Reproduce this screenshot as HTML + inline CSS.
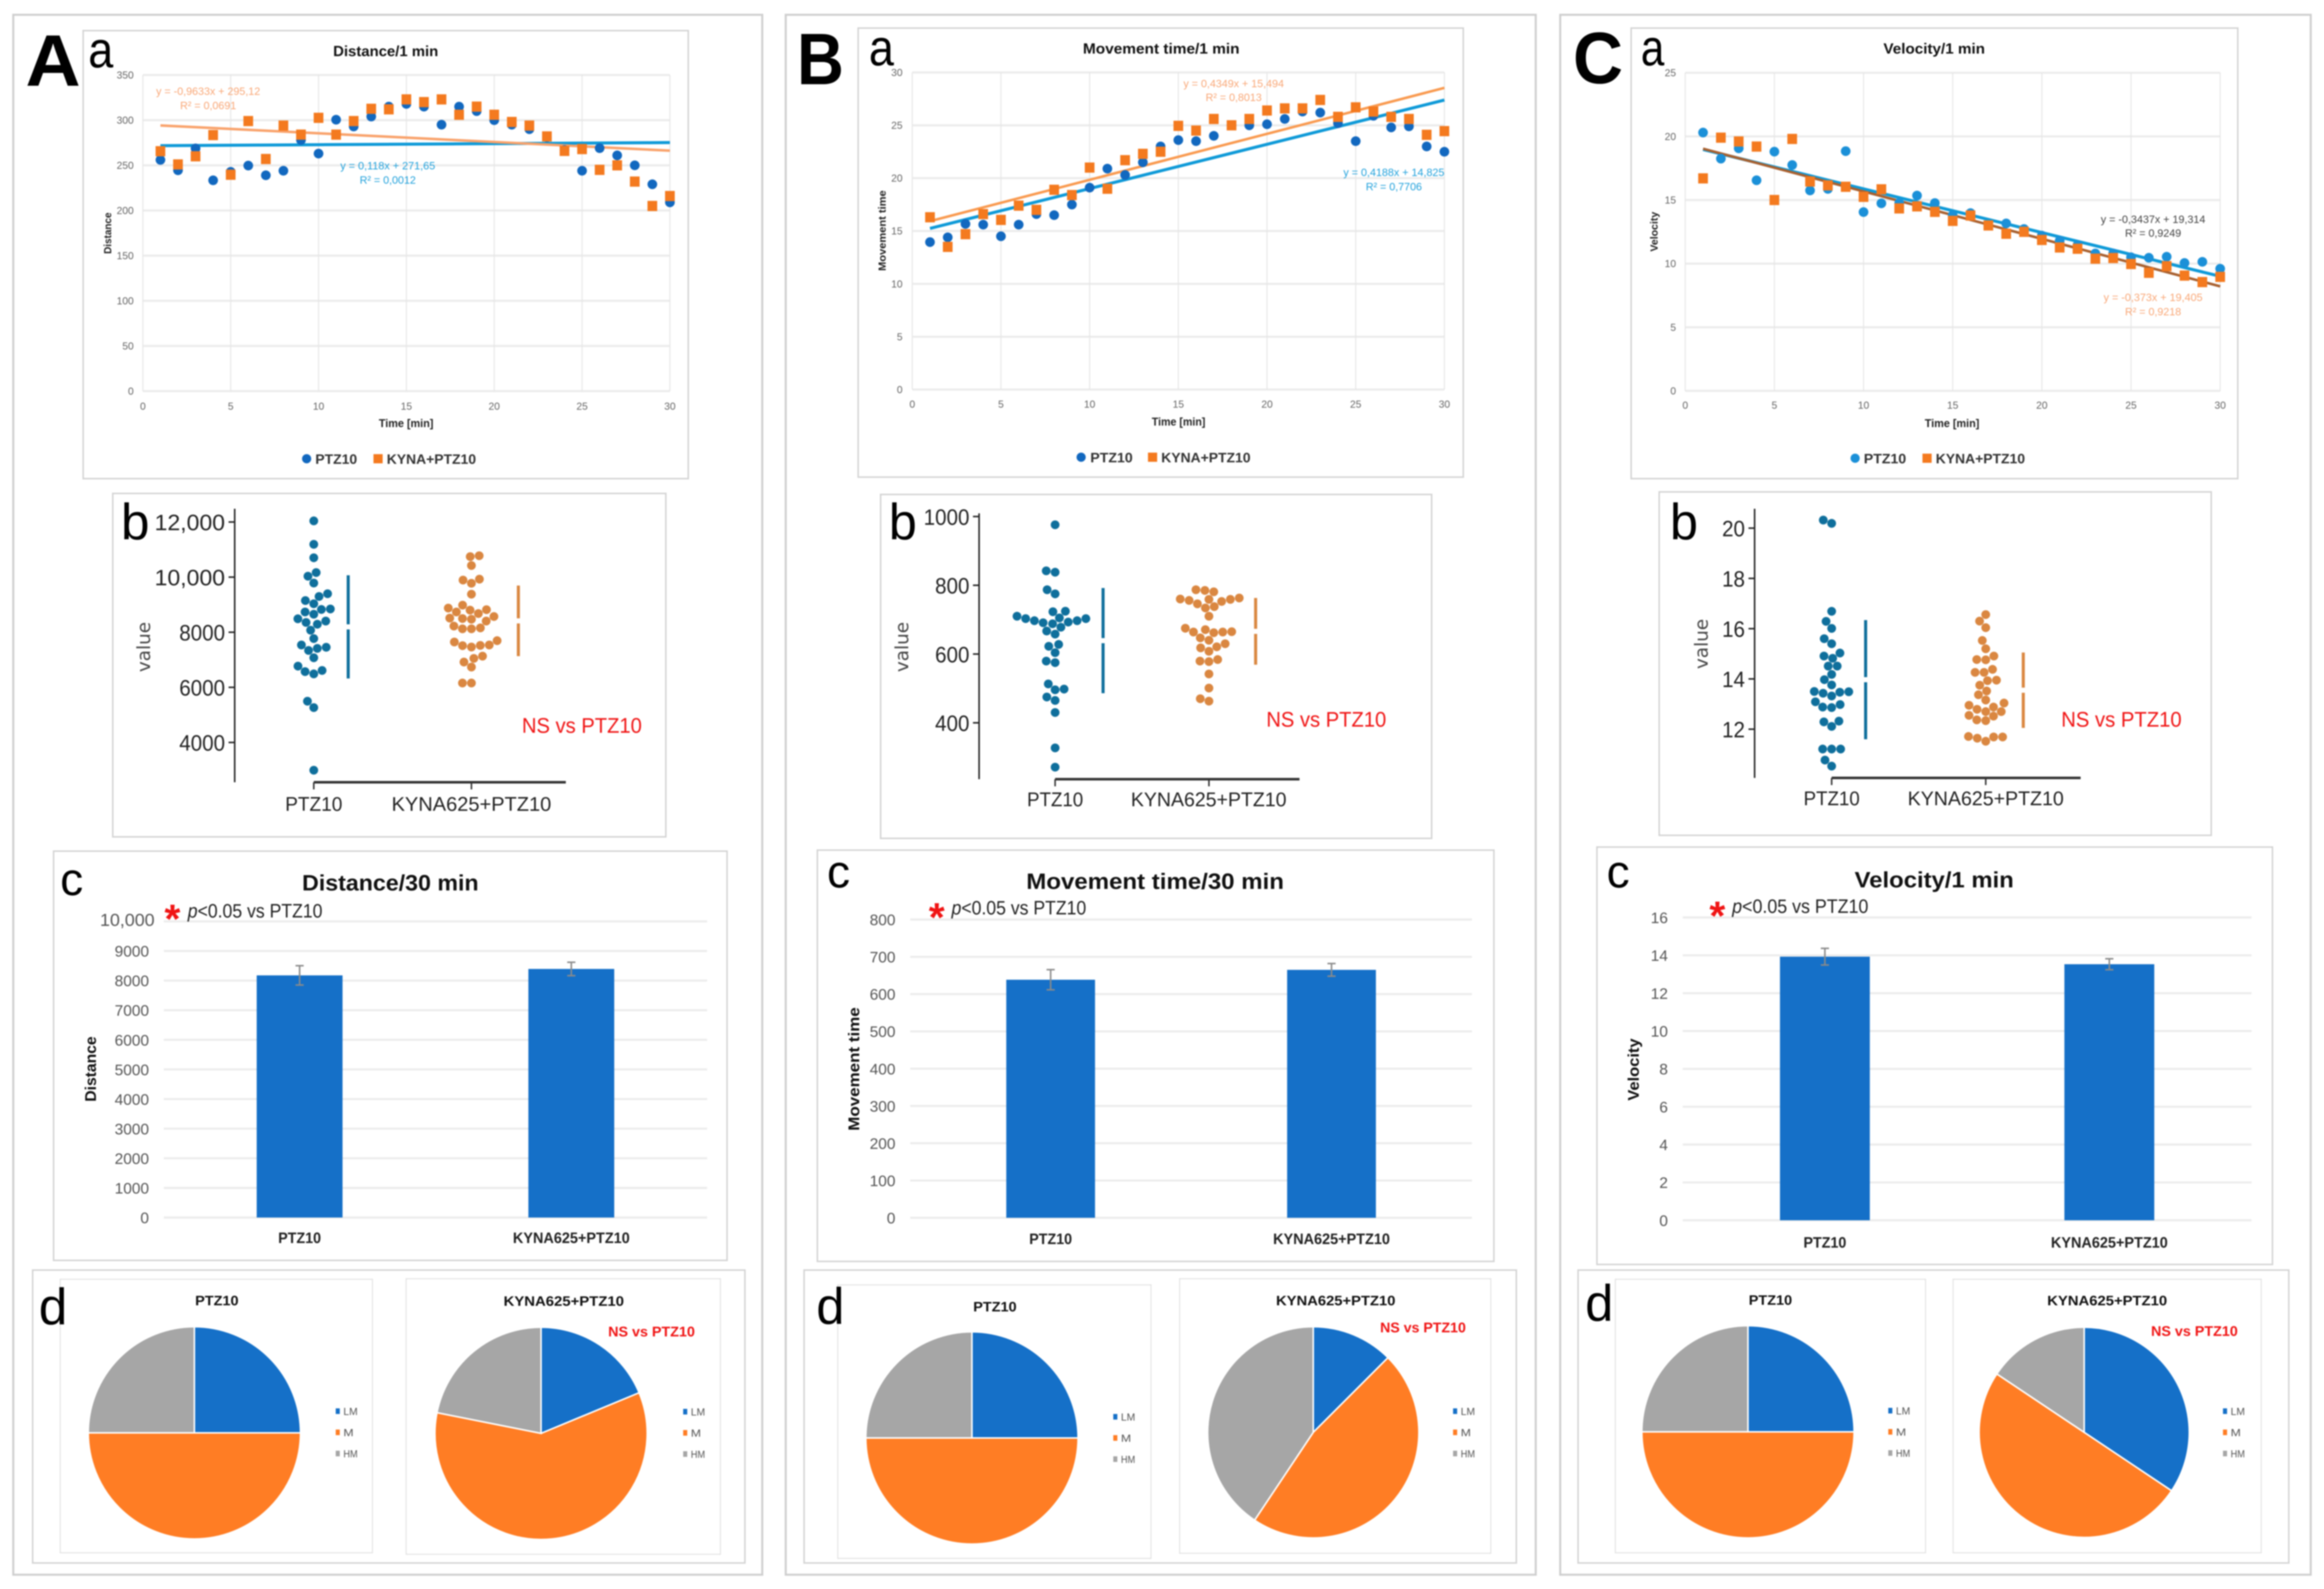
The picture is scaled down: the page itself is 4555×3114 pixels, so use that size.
<!DOCTYPE html>
<html lang="en">
<head>
<meta charset="utf-8">
<title>PTZ10 and KYNA625+PTZ10 behavioural charts</title>
<style>
html,body{margin:0;padding:0;background:#fff;}
svg{display:block;filter:blur(1.4px);font-family:"Liberation Sans",sans-serif;}
.frame{fill:#fff;stroke:#cfcfcf;stroke-width:4;}
.box{fill:#fff;stroke:#d4d4d4;stroke-width:3;}
.subbox{fill:#fff;stroke:#e2e2e2;stroke-width:2;}
.big{font-weight:700;font-size:143px;fill:#000;}
.sub{font-size:100px;fill:#000;}
.atitle{font-weight:700;font-size:29px;fill:#111;}
.axb{font-weight:700;font-size:20px;fill:#222;}
.leg{font-weight:700;font-size:27px;fill:#333;}
.eqo{font-size:21px;fill:#f9a878;}
.eqb{font-size:21px;fill:#23a2dc;}
.eqd{font-size:21px;fill:#444;}
.val{font-family:"DejaVu Sans",sans-serif;font-size:36px;fill:#444;}
.cat{font-size:39px;fill:#222;}
.ns{font-size:42px;fill:#f01515;}
.ctitle{font-weight:700;font-size:44px;fill:#111;}
.cax{font-weight:700;font-size:31px;fill:#111;}
.ccat{font-weight:700;font-size:30px;fill:#222;}
.star{font-weight:700;font-size:80px;fill:#f01515;}
.sig{font-size:38px;fill:#222;}
.dtitle{font-weight:700;font-size:27px;fill:#111;}
.dns{font-weight:700;font-size:28px;fill:#f01515;}
</style>
</head>
<body>
<svg id="fig" width="4555" height="3114" viewBox="0 0 4555 3114">
<rect x="0" y="0" width="4555" height="3114" fill="#fff"/>

<rect class="frame" x="26" y="29" width="1468" height="3057"/>
<rect class="frame" x="1540" y="29" width="1470" height="3057"/>
<rect class="frame" x="3058" y="29" width="1471" height="3057"/>

<rect class="box" x="163" y="60" width="1186" height="878"/>
<rect class="box" x="1682" y="55" width="1186" height="880"/>
<rect class="box" x="3197" y="55" width="1189" height="883"/>

<rect class="box" x="221" y="967" width="1084" height="673"/>
<rect class="box" x="1726" y="969" width="1080" height="674"/>
<rect class="box" x="3252" y="964" width="1082" height="673"/>

<rect class="box" x="105" y="1668" width="1320" height="802"/>
<rect class="box" x="1602" y="1666" width="1326" height="806"/>
<rect class="box" x="3130" y="1660" width="1324" height="818"/>

<rect class="box" x="64" y="2489" width="1396" height="574"/>
<rect class="box" x="1576" y="2489" width="1396" height="574"/>
<rect class="box" x="3093" y="2489" width="1393" height="574"/>

<rect class="subbox" x="118" y="2507" width="612" height="536"/>
<rect class="subbox" x="796" y="2506" width="616" height="540"/>
<rect class="subbox" x="1642" y="2518" width="614" height="536"/>
<rect class="subbox" x="2312" y="2506" width="610" height="538"/>
<rect class="subbox" x="3166" y="2507" width="608" height="536"/>
<rect class="subbox" x="3828" y="2507" width="604" height="536"/>

<g id="charts"></g>

<!-- Panel letters -->
<text class="big" x="50" y="168" textLength="108" lengthAdjust="spacingAndGlyphs">A</text>
<text class="big" x="1562" y="165" textLength="92" lengthAdjust="spacingAndGlyphs">B</text>
<text class="big" x="3083" y="163" textLength="98" lengthAdjust="spacingAndGlyphs">C</text>

<text class="sub" x="173" y="132" textLength="49" lengthAdjust="spacingAndGlyphs">a</text>
<text class="sub" x="1703" y="128" textLength="49" lengthAdjust="spacingAndGlyphs">a</text>
<text class="sub" x="3216" y="128" textLength="46" lengthAdjust="spacingAndGlyphs">a</text>

<text class="sub" x="237" y="1057" textLength="56" lengthAdjust="spacingAndGlyphs">b</text>
<text class="sub" x="1742" y="1057" textLength="55" lengthAdjust="spacingAndGlyphs">b</text>
<text class="sub" x="3273" y="1057" textLength="55" lengthAdjust="spacingAndGlyphs">b</text>

<text class="sub" x="118" y="1754" style="font-size:90px" textLength="45" lengthAdjust="spacingAndGlyphs">c</text>
<text class="sub" x="1621" y="1739" style="font-size:90px" textLength="45" lengthAdjust="spacingAndGlyphs">c</text>
<text class="sub" x="3149" y="1739" style="font-size:90px" textLength="45" lengthAdjust="spacingAndGlyphs">c</text>

<text class="sub" x="76" y="2595" textLength="56" lengthAdjust="spacingAndGlyphs">d</text>
<text class="sub" x="1600" y="2594" textLength="55" lengthAdjust="spacingAndGlyphs">d</text>
<text class="sub" x="3107" y="2588" textLength="55" lengthAdjust="spacingAndGlyphs">d</text>

<!-- Scatter titles, axis titles, legends, equations -->
<text class="atitle" x="756" y="110" text-anchor="middle" textLength="206" lengthAdjust="spacingAndGlyphs">Distance/1 min</text>
<text class="atitle" x="2276" y="105" text-anchor="middle" textLength="307" lengthAdjust="spacingAndGlyphs">Movement time/1 min</text>
<text class="atitle" x="3791" y="105" text-anchor="middle" textLength="199" lengthAdjust="spacingAndGlyphs">Velocity/1 min</text>

<text class="axb" transform="rotate(-90 218 457)" x="218" y="457" text-anchor="middle" textLength="81" lengthAdjust="spacingAndGlyphs">Distance</text>
<text class="axb" transform="rotate(-90 1736 452)" x="1736" y="452" text-anchor="middle" textLength="158" lengthAdjust="spacingAndGlyphs">Movement time</text>
<text class="axb" transform="rotate(-90 3249 454)" x="3249" y="454" text-anchor="middle" textLength="78" lengthAdjust="spacingAndGlyphs">Velocity</text>

<text class="axb" style="font-size:22px" x="796" y="837" text-anchor="middle" textLength="107" lengthAdjust="spacingAndGlyphs">Time [min]</text>
<text class="axb" style="font-size:22px" x="2310" y="834" text-anchor="middle" textLength="105" lengthAdjust="spacingAndGlyphs">Time [min]</text>
<text class="axb" style="font-size:22px" x="3826" y="837" text-anchor="middle" textLength="107" lengthAdjust="spacingAndGlyphs">Time [min]</text>

<circle cx="601" cy="899" r="9" fill="#1268bf"/>
<text class="leg" x="618" y="909" textLength="82" lengthAdjust="spacingAndGlyphs">PTZ10</text>
<rect x="732" y="890" width="18" height="18" fill="#f47a1f"/>
<text class="leg" x="758" y="909" textLength="175" lengthAdjust="spacingAndGlyphs">KYNA+PTZ10</text>

<circle cx="2119" cy="896" r="9" fill="#1268bf"/>
<text class="leg" x="2137" y="906" textLength="83" lengthAdjust="spacingAndGlyphs">PTZ10</text>
<rect x="2250" y="887" width="18" height="18" fill="#f47a1f"/>
<text class="leg" x="2276" y="906" textLength="175" lengthAdjust="spacingAndGlyphs">KYNA+PTZ10</text>

<circle cx="3636" cy="898" r="9" fill="#1b90d8"/>
<text class="leg" x="3653" y="908" textLength="83" lengthAdjust="spacingAndGlyphs">PTZ10</text>
<rect x="3768" y="889" width="18" height="18" fill="#f47a1f"/>
<text class="leg" x="3794" y="908" textLength="175" lengthAdjust="spacingAndGlyphs">KYNA+PTZ10</text>

<text class="eqo" x="408" y="186" text-anchor="middle" textLength="204" lengthAdjust="spacingAndGlyphs">y = -0,9633x + 295,12</text>
<text class="eqo" x="408" y="214" text-anchor="middle" textLength="110" lengthAdjust="spacingAndGlyphs">R² = 0,0691</text>
<text class="eqb" x="760" y="332" text-anchor="middle" textLength="186" lengthAdjust="spacingAndGlyphs">y = 0,118x + 271,65</text>
<text class="eqb" x="760" y="360" text-anchor="middle" textLength="110" lengthAdjust="spacingAndGlyphs">R² = 0,0012</text>

<text class="eqo" x="2418" y="171" text-anchor="middle" textLength="197" lengthAdjust="spacingAndGlyphs">y = 0,4349x + 15,494</text>
<text class="eqo" x="2418" y="198" text-anchor="middle" textLength="110" lengthAdjust="spacingAndGlyphs">R² = 0,8013</text>
<text class="eqb" x="2732" y="345" text-anchor="middle" textLength="198" lengthAdjust="spacingAndGlyphs">y = 0,4188x + 14,825</text>
<text class="eqb" x="2732" y="373" text-anchor="middle" textLength="110" lengthAdjust="spacingAndGlyphs">R² = 0,7706</text>

<text class="eqd" x="4220" y="437" text-anchor="middle" textLength="205" lengthAdjust="spacingAndGlyphs">y = -0,3437x + 19,314</text>
<text class="eqd" x="4220" y="464" text-anchor="middle" textLength="110" lengthAdjust="spacingAndGlyphs">R² = 0,9249</text>
<text class="eqo" x="4220" y="590" text-anchor="middle" textLength="194" lengthAdjust="spacingAndGlyphs">y = -0,373x + 19,405</text>
<text class="eqo" x="4220" y="618" text-anchor="middle" textLength="110" lengthAdjust="spacingAndGlyphs">R² = 0,9218</text>

<!-- Swarm labels -->
<text class="val" transform="rotate(-90 294 1268)" x="294" y="1268" text-anchor="middle">value</text>
<text class="val" transform="rotate(-90 1780 1268)" x="1780" y="1268" text-anchor="middle">value</text>
<text class="val" transform="rotate(-90 3347 1262)" x="3347" y="1262" text-anchor="middle">value</text>

<text class="cat" x="615" y="1589" text-anchor="middle" textLength="112" lengthAdjust="spacingAndGlyphs">PTZ10</text>
<text class="cat" x="924" y="1589" text-anchor="middle" textLength="313" lengthAdjust="spacingAndGlyphs">KYNA625+PTZ10</text>
<text class="cat" x="2068" y="1580" text-anchor="middle" textLength="110" lengthAdjust="spacingAndGlyphs">PTZ10</text>
<text class="cat" x="2369" y="1580" text-anchor="middle" textLength="305" lengthAdjust="spacingAndGlyphs">KYNA625+PTZ10</text>
<text class="cat" x="3590" y="1578" text-anchor="middle" textLength="110" lengthAdjust="spacingAndGlyphs">PTZ10</text>
<text class="cat" x="3892" y="1578" text-anchor="middle" textLength="306" lengthAdjust="spacingAndGlyphs">KYNA625+PTZ10</text>

<text class="ns" x="1023" y="1436" textLength="235" lengthAdjust="spacingAndGlyphs">NS vs PTZ10</text>
<text class="ns" x="2482" y="1424" textLength="235" lengthAdjust="spacingAndGlyphs">NS vs PTZ10</text>
<text class="ns" x="4040" y="1424" textLength="236" lengthAdjust="spacingAndGlyphs">NS vs PTZ10</text>

<!-- Bar chart labels -->
<text class="ctitle" x="765" y="1745" text-anchor="middle" textLength="346" lengthAdjust="spacingAndGlyphs">Distance/30 min</text>
<text class="ctitle" x="2264" y="1742" text-anchor="middle" textLength="505" lengthAdjust="spacingAndGlyphs">Movement time/30 min</text>
<text class="ctitle" x="3791" y="1739" text-anchor="middle" textLength="312" lengthAdjust="spacingAndGlyphs">Velocity/1 min</text>

<text class="star" x="338" y="1828" text-anchor="middle">*</text>
<text class="star" x="1836" y="1825" text-anchor="middle">*</text>
<text class="star" x="3366" y="1822" text-anchor="middle">*</text>

<text class="sig" x="368" y="1798" textLength="264" lengthAdjust="spacingAndGlyphs"><tspan font-style="italic">p</tspan>&lt;0.05 vs PTZ10</text>
<text class="sig" x="1865" y="1792" textLength="264" lengthAdjust="spacingAndGlyphs"><tspan font-style="italic">p</tspan>&lt;0.05 vs PTZ10</text>
<text class="sig" x="3395" y="1789" textLength="267" lengthAdjust="spacingAndGlyphs"><tspan font-style="italic">p</tspan>&lt;0.05 vs PTZ10</text>

<text class="cax" transform="rotate(-90 188 2095)" x="188" y="2095" text-anchor="middle" textLength="128" lengthAdjust="spacingAndGlyphs">Distance</text>
<text class="cax" transform="rotate(-90 1684 2095)" x="1684" y="2095" text-anchor="middle" textLength="242" lengthAdjust="spacingAndGlyphs">Movement time</text>
<text class="cax" transform="rotate(-90 3212 2096)" x="3212" y="2096" text-anchor="middle" textLength="122" lengthAdjust="spacingAndGlyphs">Velocity</text>

<!-- Pie labels -->
<text class="dtitle" x="425" y="2558" text-anchor="middle" textLength="85" lengthAdjust="spacingAndGlyphs">PTZ10</text>
<text class="dtitle" x="1105" y="2559" text-anchor="middle" textLength="236" lengthAdjust="spacingAndGlyphs">KYNA625+PTZ10</text>
<text class="dns" x="1192" y="2619" textLength="170" lengthAdjust="spacingAndGlyphs">NS vs PTZ10</text>
<text class="dtitle" x="1950" y="2570" text-anchor="middle" textLength="85" lengthAdjust="spacingAndGlyphs">PTZ10</text>
<text class="dtitle" x="2618" y="2558" text-anchor="middle" textLength="234" lengthAdjust="spacingAndGlyphs">KYNA625+PTZ10</text>
<text class="dns" x="2705" y="2611" textLength="168" lengthAdjust="spacingAndGlyphs">NS vs PTZ10</text>
<text class="dtitle" x="3470" y="2557" text-anchor="middle" textLength="85" lengthAdjust="spacingAndGlyphs">PTZ10</text>
<text class="dtitle" x="4130" y="2558" text-anchor="middle" textLength="235" lengthAdjust="spacingAndGlyphs">KYNA625+PTZ10</text>
<text class="dns" x="4216" y="2618" textLength="170" lengthAdjust="spacingAndGlyphs">NS vs PTZ10</text>
</svg>

<script>
/* ---------- shared axis data ---------- */
const minutes = [1,2,3,4,5,6,7,8,9,10,11,12,13,14,15,16,17,18,19,20,21,22,23,24,25,26,27,28,29,30];
const scatterXTicks = [0,5,10,15,20,25,30];
const barCategories = ['PTZ10','KYNA625+PTZ10'];
const pieLegendLabels = ['LM','M','HM'];

/* ---------- a: per-minute scatter data ---------- */
const distancePtz = [256,244.5,268.7,233.4,242.8,249.7,239,244,278,263,300.5,293,304,315,318,315,295,315,310,300,295,290,281,267,244,269,261,250,229,209];
const distanceKyna = [265.6,251,260,283.5,239.6,299,257,294,284,302.6,284,299,312.6,312,323,320,323,306,315,306,298,294,282,266,268,245,250,232,205,216];
const distanceTrendPtz = [0.118,271.65];
const distanceTrendKyna = [-0.9633,295.12];
const distanceYTicks = [0,50,100,150,200,250,300,350];

const movementPtz = [13.95,14.4,15.67,15.6,14.5,15.6,16.6,16.5,17.5,19.1,20.9,20.3,21.5,23,23.6,23.5,24,25,25,25.1,25.6,26.3,26.2,25.2,23.5,25.9,24.8,24.9,23,22.5];
const movementKyna = [16.3,13.5,14.7,16.6,16.05,17.4,17,18.9,18.4,21,19,21.7,22.3,22.5,24.95,24.5,25.6,25,25.6,26.4,26.6,26.6,27.4,25.8,26.7,26.3,25.8,25.6,24.1,24.45];
const movementTrendPtz = [0.4188,14.825];
const movementTrendKyna = [0.4349,15.494];
const movementYTicks = [0,5,10,15,20,25,30];

const velocityPtz = [20.3,18.25,19.06,16.55,18.8,17.75,15.75,15.87,18.84,14.05,14.74,14.76,15.35,14.76,13.8,13.97,13,13.16,12.72,12.2,11.8,11.45,10.8,10.8,10.5,10.46,10.54,10.05,10.14,9.6];
const velocityKyna = [16.7,19.9,19.6,19.2,15,19.8,16.45,16.15,16.04,15.25,15.84,14.34,14.5,14.07,13.36,13.78,13,12.35,12.5,11.86,11.27,11.17,10.39,10.44,9.97,9.28,9.8,9.06,8.55,8.96];
const velocityTrendPtz = [-0.3437,19.314];
const velocityTrendKyna = [-0.373,19.405];
const velocityYTicks = [0,5,10,15,20,25];

/* ---------- b: individual-animal swarm data ---------- */
const distanceSwarmPtz = [12041,11190,10702,10165,10033,9785,9397,9297,9149,9033,8843,8826,8735,8653,8488,8405,8355,8290,8074,7769,7537,7454,7413,7339,7074,6769,6612,6570,6488,5496,5265,2992];
const distanceSwarmKyna = [10777,10744,10421,9926,9892,9777,9380,8983,8876,8818,8802,8735,8678,8570,8512,8496,8471,8405,8223,8157,8124,8124,7694,7645,7537,7521,7512,7463,7132,7050,6917,6736,6157,6157];
const distanceSwarmMeans = [8194,8413];
const distanceSwarmSds = [1872,1281];
const distanceSwarmTicks = [4000,6000,8000,10000,12000];
const distanceSwarmTickLabels = ['4000','6000','8000','10,000','12,000'];

const movementSwarmPtz = [976,842,838,787,775,724.5,723,710,705,703,703,697,697,693,691,688,678,667,658,628,622.5,604,579.5,575,513,498,496,475,465,430,327,271];
const movementSwarmKyna = [787,785,781,763,760,759,759,756,753,746,738,734,710,675,671,665,664,664,662,647,640,630,621,618,608,584,579.5,578,542,501,470,463];
const movementSwarmMeans = [639,666];
const movementSwarmSds = [153,97];
const movementSwarmTicks = [400,600,800,1000];
const movementSwarmTickLabels = ['400','600','800','1000'];

const velocitySwarmPtz = [20.32,20.19,16.69,16.29,16.01,15.6,15.4,15.03,14.91,14.82,14.51,14.51,14.18,13.97,13.76,13.5,13.49,13.47,13.43,13.32,13.09,12.98,12.88,12.86,12.32,12.29,12.11,11.21,11.21,11.21,10.77,10.53];
const velocitySwarmKyna = [16.56,16.3,16.04,15.53,15.2,14.91,14.77,14.76,14.38,14.26,14.26,13.95,13.93,13.75,13.52,13.37,13.16,13.04,12.95,12.88,12.79,12.7,12.7,12.55,12.52,12.37,12.34,11.71,11.69,11.69,11.64,11.52];
const velocitySwarmMeans = [13.97,13.55];
const velocitySwarmSds = [2.37,1.5];
const velocitySwarmTicks = [12,14,16,18,20];
const velocitySwarmTickLabels = ['12','14','16','18','20'];

/* ---------- c: group bar data ---------- */
const distanceBarMeans = [8176,8393];
const distanceBarErrors = [326,227];
const distanceBarTicks = [0,1000,2000,3000,4000,5000,6000,7000,8000,9000,10000];
const distanceBarTickLabels = ['0','1000','2000','3000','4000','5000','6000','7000','8000','9000','10,000'];

const movementBarMeans = [638.5,665];
const movementBarErrors = [27,17];
const movementBarTicks = [0,100,200,300,400,500,600,700,800];
const movementBarTickLabels = ['0','100','200','300','400','500','600','700','800'];

const velocityBarMeans = [13.93,13.53];
const velocityBarErrors = [0.44,0.29];
const velocityBarTicks = [0,2,4,6,8,10,12,14,16];
const velocityBarTickLabels = ['0','2','4','6','8','10','12','14','16'];

/* ---------- d: group composition data (LM, M, HM counts) ---------- */
const distancePiePtz = [8,16,8];
const distancePieKyna = [6,19,7];
const movementPiePtz = [8,16,8];
const movementPieKyna = [4,15,13];
const velocityPiePtz = [8,16,8];
const velocityPieKyna = [11,16,5];

/* ---------- helpers ---------- */
const NS = document.getElementById('fig').namespaceURI;
const chartRoot = document.getElementById('charts');
function mk(parent, tag, attrs, content) {
  const el = document.createElementNS(NS, tag);
  for (const k in attrs) el.setAttribute(k, attrs[k]);
  if (content !== undefined) el.textContent = content;
  parent.appendChild(el);
  return el;
}
function linearScale(d0, d1, r0, r1) {
  return function (v) { return r0 + (v - d0) / (d1 - d0) * (r1 - r0); };
}

/* ---------- a: scatter ---------- */
function drawScatter(o) {
  const g = mk(chartRoot, 'g', {});
  
  
  const xs = linearScale(0, 30, o.left, o.right);
  const ymax = o.yTicks[o.yTicks.length - 1];
  const ys = linearScale(0, ymax, o.bottom, o.top);
  o.yTicks.forEach(function (t) {
    const line = mk(g, 'line', {x1: o.left, x2: o.right, y1: ys(t), y2: ys(t), stroke: '#ebebeb', 'stroke-width': 4});
    
    
    const label = mk(g, 'text', {x: o.tickRight, y: ys(t) + 7, 'text-anchor': 'end', 'font-size': 20, fill: '#666'}, String(t));
    
    
  });
  scatterXTicks.forEach(function (t) {
    const line = mk(g, 'line', {x1: xs(t), x2: xs(t), y1: o.top, y2: o.bottom, stroke: '#e6e6e6', 'stroke-width': 2});
    
    
    const label = mk(g, 'text', {x: xs(t), y: o.xLabelY, 'text-anchor': 'middle', 'font-size': 20, fill: '#666'}, String(t));
    
    
  });
  const first = minutes[0], last = minutes[minutes.length - 1];
  const tp = mk(g, 'line', {x1: xs(first), x2: xs(last), y1: ys(o.trendPtz[0] * first + o.trendPtz[1]), y2: ys(o.trendPtz[0] * last + o.trendPtz[1]), stroke: o.trendPtzColor, 'stroke-width': 6});
  
  
  const tk = mk(g, 'line', {x1: xs(first), x2: xs(last), y1: ys(o.trendKyna[0] * first + o.trendKyna[1]), y2: ys(o.trendKyna[0] * last + o.trendKyna[1]), stroke: o.trendKynaColor, 'stroke-width': 5});
  
  
  minutes.forEach(function (m, i) {
    const c = mk(g, 'circle', {cx: xs(m), cy: ys(o.ptz[i]), r: 9.5, fill: o.pointColor});
    
    
  });
  minutes.forEach(function (m, i) {
    const s = mk(g, 'rect', {x: xs(m) - 9.5, y: ys(o.kyna[i]) - 10, width: 19, height: 20, fill: '#f47a1f'});
    
    
  });
}

/* ---------- b: swarm (seaborn-style placement derived from the values) ---------- */
function swarmOffsets(values, ys, d) {
  const order = values.slice().sort(function (a, b) { return a - b; });
  const placed = [];
  order.forEach(function (v) {
    const y = ys(v);
    const near = placed.filter(function (p) { return Math.abs(p.y - y) < d; });
    const cand = [0];
    near.forEach(function (p) {
      const w = Math.sqrt(d * d - (p.y - y) * (p.y - y));
      cand.push(p.x - w, p.x + w);
    });
    const ok = cand.filter(function (c) {
      return near.every(function (p) {
        return (p.x - c) * (p.x - c) + (p.y - y) * (p.y - y) >= d * d - 0.01;
      });
    });
    let best = ok[0];
    ok.forEach(function (c) { if (Math.abs(c) < Math.abs(best) - 0.001) best = c; });
    placed.push({x: best, y: y});
  });
  return placed;
}
function drawSwarm(o) {
  const g = mk(chartRoot, 'g', {});
  
  
  const ys = linearScale(o.tickA, o.tickB, o.tickAY, o.tickBY);
  const yAxis = mk(g, 'line', {x1: o.axisX, x2: o.axisX, y1: o.axisTop, y2: o.axisBottom, stroke: '#222', 'stroke-width': 3});
  
  
  const xAxis = mk(g, 'line', {x1: o.centers[0], x2: o.xAxisEnd, y1: o.axisBottom, y2: o.axisBottom, stroke: '#333', 'stroke-width': 5});
  
  
  o.centers.forEach(function (c) {
    const t = mk(g, 'line', {x1: c, x2: c, y1: o.axisBottom, y2: o.axisBottom + 14, stroke: '#333', 'stroke-width': 3});
    
    
  });
  o.ticks.forEach(function (t, i) {
    const mark = mk(g, 'line', {x1: o.axisX - 12, x2: o.axisX, y1: ys(t), y2: ys(t), stroke: '#222', 'stroke-width': 3});
    
    
    const s = o.tickLabels[i];
    const digits = s.replace(',', '').length;
    const w = digits * 22.4 + (s.indexOf(',') >= 0 ? 26 : 0);
    const label = mk(g, 'text', {x: o.axisX - 19, y: ys(t) + 16, 'text-anchor': 'end', 'font-size': 44, fill: '#222', textLength: w, lengthAdjust: 'spacingAndGlyphs'}, s);
    
    
  });
  [o.ptz, o.kyna].forEach(function (vals, gi) {
    const col = gi === 0 ? '#0f6f9c' : '#da8741';
    swarmOffsets(vals, ys, 17.6).forEach(function (p) {
      const c = mk(g, 'circle', {cx: o.centers[gi] + p.x, cy: p.y, r: 8.6, fill: col});
      
      
    });
    const m = o.means[gi], s = o.sds[gi];
    const up = mk(g, 'line', {x1: o.errX[gi], x2: o.errX[gi], y1: ys(m + s), y2: ys(m) - 5, stroke: col, 'stroke-width': 6});
    
    
    const lo = mk(g, 'line', {x1: o.errX[gi], x2: o.errX[gi], y1: ys(m) + 5, y2: ys(m - s), stroke: col, 'stroke-width': 6});
    
    
  });
}

/* ---------- c: bars ---------- */
function drawBars(o) {
  const g = mk(chartRoot, 'g', {});
  
  
  const ymax = o.ticks[o.ticks.length - 1];
  const ys = linearScale(0, ymax, o.bottom, o.top);
  const band = (o.right - o.left) / barCategories.length;
  o.ticks.forEach(function (t, i) {
    const line = mk(g, 'line', {x1: o.left, x2: o.right, y1: ys(t), y2: ys(t), stroke: '#ececec', 'stroke-width': 4});
    
    
    const s = o.tickLabels[i];
    const wide = s.indexOf(',') >= 0;
    const label = mk(g, 'text', {x: wide ? o.tickRight + 11 : o.tickRight, y: wide ? ys(t) + 9 : ys(t) + 11, 'text-anchor': 'end', 'font-size': wide ? 34 : 30, fill: '#555', textLength: wide ? 107 : s.length * 16.8, lengthAdjust: 'spacingAndGlyphs'}, s);
    
    
  });
  barCategories.forEach(function (cat, i) {
    const cx = o.left + band * (i + 0.5);
    const bw = band * 0.316;
    const r = mk(g, 'rect', {x: cx - bw / 2, y: ys(o.means[i]), width: bw, height: ys(0) - ys(o.means[i]), fill: '#1570c8'});
    
    
    const hi = ys(o.means[i] + o.errors[i]);
    const lo = ys(o.means[i] - o.errors[i]);
    const e = mk(g, 'path', {d: 'M' + cx + ' ' + hi + 'V' + lo + 'M' + (cx - 8) + ' ' + hi + 'H' + (cx + 8) + 'M' + (cx - 8) + ' ' + lo + 'H' + (cx + 8), stroke: '#8a8a8a', 'stroke-width': 3, fill: 'none'});
    
    
    const label = mk(g, 'text', {x: cx, y: o.catY, 'text-anchor': 'middle', 'font-size': 30, 'font-weight': 700, fill: '#222', textLength: i === 0 ? 84 : 229, lengthAdjust: 'spacingAndGlyphs'}, cat);
    
    
  });
}

/* ---------- d: pies ---------- */
function drawPie(o) {
  const g = mk(chartRoot, 'g', {});
  
  
  const colors = ['#1570c8', '#ff7d24', '#a6a6a6'];
  const total = o.counts.reduce(function (a, b) { return a + b; }, 0);
  let a0 = -Math.PI / 2;
  o.counts.forEach(function (n, i) {
    const a1 = a0 + n / total * 2 * Math.PI;
    const big = a1 - a0 > Math.PI ? 1 : 0;
    const d = 'M' + o.cx + ' ' + o.cy + 'L' + (o.cx + o.r * Math.cos(a0)) + ' ' + (o.cy + o.r * Math.sin(a0)) +
      'A' + o.r + ' ' + o.r + ' 0 ' + big + ' 1 ' + (o.cx + o.r * Math.cos(a1)) + ' ' + (o.cy + o.r * Math.sin(a1)) + 'Z';
    const slice = mk(g, 'path', {d: d, fill: colors[i], stroke: '#fff', 'stroke-width': 3});
    
    
    a0 = a1;
  });
  pieLegendLabels.forEach(function (lab, i) {
    const ly = o.legendY + i * 41.5;
    const sw = mk(g, 'rect', {x: o.legendX - 4, y: ly - 6, width: 8, height: 11, fill: colors[i]});
    
    
    const t = mk(g, 'text', {x: o.legendX + 11, y: ly + 7, 'font-size': 20, fill: '#555', textLength: lab.length === 1 ? 20 : 28, lengthAdjust: 'spacingAndGlyphs'}, lab);
    
    
  });
}

/* ---------- build ---------- */
drawScatter({left:280,right:1313,top:147,bottom:766.5,yTicks:distanceYTicks,ptz:distancePtz,kyna:distanceKyna,trendPtz:distanceTrendPtz,trendKyna:distanceTrendKyna,pointColor:'#1268bf',trendPtzColor:'#0f9ad8',trendKynaColor:'#f9a26b',tickRight:262,xLabelY:803});
drawScatter({left:1788,right:2831,top:142,bottom:763.4,yTicks:movementYTicks,ptz:movementPtz,kyna:movementKyna,trendPtz:movementTrendPtz,trendKyna:movementTrendKyna,pointColor:'#1268bf',trendPtzColor:'#0f9ad8',trendKynaColor:'#f99a50',tickRight:1769,xLabelY:799});
drawScatter({left:3303,right:4351.5,top:142.6,bottom:766,yTicks:velocityYTicks,ptz:velocityPtz,kyna:velocityKyna,trendPtz:velocityTrendPtz,trendKyna:velocityTrendKyna,pointColor:'#1b90d8',trendPtzColor:'#0f9ad8',trendKynaColor:'#a8602f',tickRight:3285,xLabelY:801});

drawSwarm({axisX:460,axisTop:997,axisBottom:1533,xAxisEnd:1109,centers:[615,924],errX:[682.5,1016],tickA:8000,tickB:12000,tickAY:1239,tickBY:1023,ticks:distanceSwarmTicks,tickLabels:distanceSwarmTickLabels,ptz:distanceSwarmPtz,kyna:distanceSwarmKyna,means:distanceSwarmMeans,sds:distanceSwarmSds});
drawSwarm({axisX:1919,axisTop:1006,axisBottom:1527,xAxisEnd:2547,centers:[2068,2369.5],errX:[2162,2461],tickA:400,tickB:800,tickAY:1416.5,tickBY:1147,ticks:movementSwarmTicks,tickLabels:movementSwarmTickLabels,ptz:movementSwarmPtz,kyna:movementSwarmKyna,means:movementSwarmMeans,sds:movementSwarmSds});
drawSwarm({axisX:3439,axisTop:997,axisBottom:1524.5,xAxisEnd:4078,centers:[3590,3892],errX:[3656.6,3965.6],tickA:12,tickB:20,tickAY:1429,tickBY:1035,ticks:velocitySwarmTicks,tickLabels:velocitySwarmTickLabels,ptz:velocitySwarmPtz,kyna:velocitySwarmKyna,means:velocitySwarmMeans,sds:velocitySwarmSds});

drawBars({left:321,right:1386,top:1805.6,bottom:2386,ticks:distanceBarTicks,tickLabels:distanceBarTickLabels,means:distanceBarMeans,errors:distanceBarErrors,tickRight:292,catY:2436});
drawBars({left:1784,right:2885,top:1802,bottom:2386.5,ticks:movementBarTicks,tickLabels:movementBarTickLabels,means:movementBarMeans,errors:movementBarErrors,tickRight:1755,catY:2438});
drawBars({left:3298,right:4413,top:1798,bottom:2391.4,ticks:velocityBarTicks,tickLabels:velocityBarTickLabels,means:velocityBarMeans,errors:velocityBarErrors,tickRight:3269,catY:2445});

drawPie({cx:381,cy:2808,r:208,counts:distancePiePtz,legendX:662,legendY:2766});
drawPie({cx:1060.5,cy:2809,r:208,counts:distancePieKyna,legendX:1343,legendY:2767});
drawPie({cx:1905,cy:2818,r:208,counts:movementPiePtz,legendX:2186,legendY:2777});
drawPie({cx:2574,cy:2807,r:207,counts:movementPieKyna,legendX:2852,legendY:2766});
drawPie({cx:3426,cy:2806,r:208,counts:velocityPiePtz,legendX:3705,legendY:2765});
drawPie({cx:4085,cy:2807,r:206,counts:velocityPieKyna,legendX:4361,legendY:2766});
</script>
</body>
</html>
